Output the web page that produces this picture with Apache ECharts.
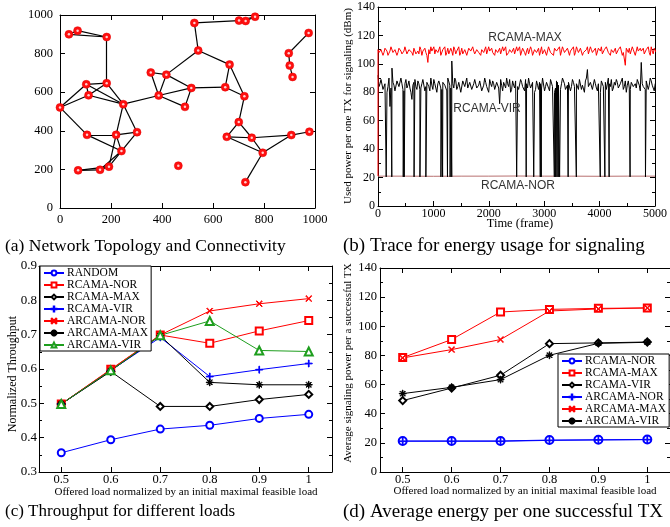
<!DOCTYPE html>
<html><head><meta charset="utf-8">
<script src="https://cdn.jsdelivr.net/npm/echarts@6/dist/echarts.min.js"></script>
<style>html,body{margin:0;padding:0;background:#fff}#c{width:670px;height:527px}</style>
</head><body><div id="c"></div>
<script>
// ---------- (a) Network topology ----------
const nodeXY = [[35,900],[69,919],[183,886],[527,959],[702,971],[728,969],[765,991],[975,907],[897,802],[901,738],
  [912,679],[542,816],[665,743],[356,702],[417,691],[103,641],[183,647],[112,584],[0,521],[248,538],
  [387,583],[515,622],[648,626],[723,579],[490,524],[701,445],[654,369],[752,364],[795,286],[907,378],
  [978,395],[727,134],[106,379],[220,379],[302,393],[241,295],[464,219],[71,195],[157,198],[192,214]];
// edges as 1-based node numbers
const edges = [[1,2],[1,3],[2,3],[3,17],[4,5],[5,6],[6,7],[5,7],[4,12],[12,15],[12,13],[8,9],[9,10],[10,11],
  [13,23],[13,24],[23,24],[22,23],[14,15],[14,21],[15,21],[15,22],[21,22],[21,25],[22,25],
  [19,16],[19,18],[19,33],[16,17],[16,18],[16,20],[17,18],[17,20],[18,20],[20,21],[20,34],[20,35],
  [33,34],[34,35],[33,36],[34,36],[35,36],[34,40],[36,40],[36,39],[38,39],[39,40],[38,40],
  [24,26],[26,27],[26,28],[27,28],[27,29],[28,29],[28,30],[29,30],[30,31],[29,32]];

// ---------- (b) Trace ----------
const FRAME_STEP = 36;
const maxTrace = [110,107,111,108,112,106,109,111,107,110,108,112,107,109,111,106,110,108,111,107,
  109,112,106,110,108,101,107,109,112,110,108,112,107,110,106,111,108,109,112,107,
  110,106,111,108,110,107,112,108,109,106,111,107,110,108,112,106,109,111,107,110,
  108,111,107,109,112,106,110,108,111,107,109,112,107,110,106,111,108,110,107,111,
  109,106,112,108,110,107,111,109,106,110,108,112,107,110,108,111,106,109,112,108,
  110,107,111,108,109,112,106,110,108,111,107,110,112,106,109,111,107,110,108,111,
  107,109,112,108,99,110,111,107,110,106,112,108,109,111,107,110,108,112,107,110];
const maxTraceHalf = [108,110,106,111,109,107,112,108,110,106,111,109,108,112,107,110,109,106,112,108,
  107,110,109,111,106,110,112,108,107,111,109,106,110,112,108,107,111,106,110,109,
  112,108,107,110,106,111,109,112,107,110,108,106,111,109,107,112,110,108,106,111,
  109,107,112,110,106,108,111,109,107,112,110,106,111,108,109,107,112,106,110,108,
  111,109,107,110,106,112,108,107,111,109,110,106,112,108,107,111,109,110,106,112,
  108,111,106,109,110,107,112,108,109,106,111,109,107,110,112,108,106,111,109,107,
  110,112,106,109,111,108,107,112,110,106,109,111,108,107,110,112,106,109,111,108];
const virTrace = [92,86,88,83,87,84,70,97,85,82,88,84,86,81,89,85,83,75,87,84,
  88,82,86,90,84,87,81,85,89,83,86,88,82,87,84,90,85,102,83,88,
  84,86,81,89,85,83,87,82,86,90,84,88,81,85,87,83,89,84,86,82,
  88,72,85,87,83,86,89,82,85,88,84,81,87,85,89,83,86,84,88,82,
  85,87,83,89,84,86,81,88,85,83,87,84,86,90,82,85,88,84,87,83,
  86,89,82,85,88,96,84,87,83,86,81,85,88,84,87,82,86,89,83,85,
  87,84,86,82,88,85,83,87,84,86,89,85,101,84,82,87,85,88,83,86];
const virTraceHalf = [84,89,82,86,80,90,83,87,81,88,84,90,82,86,83,88,80,85,89,82,
  86,83,89,81,87,84,90,82,86,80,88,83,87,85,81,89,83,86,90,82,
  87,80,88,84,90,82,86,81,89,83,85,87,82,90,84,80,86,88,82,87,
  83,89,81,86,90,84,80,88,83,87,82,89,84,81,86,90,83,87,80,88,
  82,86,90,81,87,83,89,84,80,88,85,82,90,86,83,87,81,89,84,86,
  82,88,85,80,90,84,87,82,89,83,86,80,88,85,82,90,84,81,87,89,
  83,86,90,84,80,88,82,87,85,83,90,81,86,84,88,82,90,85,81,87];
const virDropFrames = [148,249,456,473,651,757,864,1136,1166,1254,1302,1331,2503,2675,2811,2929,2947,
  3183,3207,3231,3254,3278,3432,3580,4012,4095,4172,4550,4828];
const virDropLevel = 20.5;
const norFrames = [0,500,1000,1500,2000,2500,3000,3500,4000,4500,5000];
const norTrace = [21,21,20.9,21,21,21.1,21,21,20.9,21,21];
const maxStartLevel = 21;

// ---------- (c) Throughput ----------
const loads = [0.5,0.6,0.7,0.8,0.9,1.0];
const thrRandom   = [0.356,0.394,0.425,0.436,0.456,0.468];
const thrRcamaNor = [0.498,0.599,0.699,0.675,0.711,0.741];
const thrRcamaMax = [0.498,0.593,0.491,0.491,0.511,0.526];
const thrRcamaVir = [0.498,0.596,0.692,0.578,0.598,0.616];
const thrArcamaNor= [0.498,0.598,0.699,0.769,0.790,0.805];
const thrArcamaMax= [0.498,0.595,0.697,0.561,0.554,0.554];
const thrArcamaVir= [0.498,0.596,0.698,0.740,0.654,0.651];

// ---------- (d) Energy ----------
const enRcamaNor  = [21.3,21.3,21.3,21.9,22.1,22.3];
const enRcamaMax  = [78.5,90.9,109.8,111.6,112.3,112.6];
const enRcamaVir  = [49.0,57.6,66.4,88.1,88.6,89.2];
const enArcamaNor = [21.1,21.1,21.1,21.7,22.0,22.2];
const enArcamaMax = [78.3,84.0,90.9,110.5,111.9,112.6];
const enArcamaVir = [53.8,58.1,63.4,80.1,88.3,89.0];

const loadTicks = [0.5,0.6,0.7,0.8,0.9,1];

// ---------- helpers ----------
const serif = 'Liberation Serif';
const sans = 'Liberation Sans';
const SYM_PLUS = 'path://M4.5,0H5.5V4.5H10V5.5H5.5V10H4.5V5.5H0V4.5H4.5Z';
const SYM_X = 'path://M1.3,0.6L5,4.3L8.7,0.6L9.4,1.3L5.7,5L9.4,8.7L8.7,9.4L5,5.7L1.3,9.4L0.6,8.7L4.3,5L0.6,1.3Z';
const SYM_STAR = 'path://M4.6,0H5.4V4.6H10V5.4H5.4V10H4.6V5.4H0V4.6H4.6Z M1.8,1.2L5,4.4L8.2,1.2L8.8,1.8L5.6,5L8.8,8.2L8.2,8.8L5,5.6L1.8,8.8L1.2,8.2L4.4,5L1.2,1.8Z';

function axes(dim, g, min, max, o) {
  const pos = dim === 'x' ? ['bottom','top'] : ['left','right'];
  return pos.map((p, k) => {
    const a = {
      gridIndex: g, type: 'value', position: p, min: min, max: max,
      splitLine: {show: false},
      axisLine: {show: true, onZero: false, lineStyle: {color: '#000', width: 1}},
      axisTick: {show: true, inside: true, length: o.tickLen || 5, lineStyle: {color: '#000', width: 1}},
      minorTick: {show: !!o.minor, splitNumber: o.minor || 5, length: 3, lineStyle: {color: '#000', width: 1}},
      axisLabel: {show: k === 0, fontFamily: serif, fontSize: o.fs || 12, color: '#000', margin: o.margin || 4,
                  formatter: o.fmt || (v => String(v)), showMinLabel: true, showMaxLabel: true},
      axisPointer: {show: false}
    };
    if (o.interval !== undefined) a.interval = o.interval;
    if (o.ticks) { a.axisTick.customValues = o.ticks; a.axisLabel.customValues = o.ticks; }
    return a;
  });
}

const xAxis = [].concat(
  axes('x', 0, 0, 1000, {interval: 200, fs: 12.5, margin: 5}),
  axes('x', 1, 0, 5000, {interval: 1000, fs: 12, margin: 2, minor: 2}),
  axes('x', 2, 0.455, 1.047, {ticks: loadTicks, fs: 12.5, margin: 1}),
  axes('x', 3, 0.4536, 1.0464, {ticks: loadTicks, fs: 12.5, margin: 1})
);
const yAxis = [].concat(
  axes('y', 0, 0, 1000, {interval: 200, fs: 12.5, margin: 7}),
  axes('y', 1, 0, 140, {interval: 20, fs: 12, margin: 3, minor: 2}),
  axes('y', 2, 0.3, 0.9, {interval: 0.1, fs: 13, margin: 2, minor: 2, fmt: v => v.toFixed(1)}),
  axes('y', 3, 0, 140, {interval: 20, fs: 12.5, margin: 3, minor: 2})
);

const grid = [
  {left: 60, top: 15, width: 255, height: 193},
  {left: 378, top: 7, width: 282, height: 199},
  {left: 39, top: 266, width: 293, height: 206},
  {left: 380, top: 268, width: 290, height: 204}
];

const series = [];
// (a)
series.push({type: 'lines', coordinateSystem: 'cartesian2d', xAxisIndex: 0, yAxisIndex: 0, silent: true,
  data: edges.map(([a, b]) => ({coords: [nodeXY[a - 1], nodeXY[b - 1]]})),
  lineStyle: {color: '#000', width: 1.2, opacity: 1}, z: 2});
series.push({type: 'scatter', xAxisIndex: 0, yAxisIndex: 0, data: nodeXY, symbol: 'circle', symbolSize: 8,
  itemStyle: {color: '#ff1010', borderColor: '#e00000', borderWidth: 0.5, opacity: 1}, z: 3, silent: true});
series.push({type: 'scatter', xAxisIndex: 0, yAxisIndex: 0, data: nodeXY, symbol: 'circle', symbolSize: 2.5,
  itemStyle: {color: '#ffd0d0', opacity: 1}, z: 4, silent: true});

// (b)
const halfOffset = FRAME_STEP / 2;
const maxPts = [[0, maxStartLevel]].concat(maxTrace.map((v, i) => [i * FRAME_STEP, v]))
  .concat(maxTraceHalf.map((v, i) => [i * FRAME_STEP + halfOffset, v]))
  .sort((a, b) => a[0] - b[0]);
const virPts = virTrace.map((v, i) => [i * FRAME_STEP, v])
  .concat(virTraceHalf.map((v, i) => [i * FRAME_STEP + halfOffset, v]))
  .concat(virDropFrames.map(f => [f, virDropLevel]))
  .sort((a, b) => a[0] - b[0]);
const norPts = norFrames.map((f, i) => [f, norTrace[i]]);
const traceCommon = {type: 'line', xAxisIndex: 2, yAxisIndex: 2, showSymbol: false, symbol: 'none',
  silent: true, clip: true};
series.push(Object.assign({}, traceCommon, {name: 'trace-nor', data: norPts, lineStyle: {color: '#b87070', width: 1}, z: 2}));
series.push(Object.assign({}, traceCommon, {name: 'trace-vir', data: virPts, lineStyle: {color: '#000', width: 1}, z: 3}));
series.push(Object.assign({}, traceCommon, {name: 'trace-max', data: maxPts, lineStyle: {color: '#ff0000', width: 1}, z: 4}));

// (c) & (d)
function mk(name, vals, color, symbol, xi, size) {
  return {type: 'line', name: name, xAxisIndex: xi, yAxisIndex: xi,
    data: loads.map((x, i) => [x, vals[i]]), symbol: symbol, symbolSize: size || 7, showSymbol: true,
    lineStyle: {color: color, width: 1}, itemStyle: {color: color, borderColor: color, borderWidth: 1},
    emphasis: {disabled: true}, silent: true};
}
const green = '#1e9e1e';
const cSeries = [
  mk('RANDOM', thrRandom, '#0000ff', 'emptyCircle', 4),
  mk('RCAMA-NOR', thrRcamaNor, '#ff0000', 'emptyRect', 4),
  mk('RCAMA-MAX', thrRcamaMax, '#000000', 'emptyDiamond', 4),
  mk('RCAMA-VIR', thrRcamaVir, '#0000ff', SYM_PLUS, 4),
  mk('ARCAMA-NOR', thrArcamaNor, '#ff0000', SYM_X, 4, 6),
  mk('ARCAMA-MAX', thrArcamaMax, '#000000', SYM_STAR, 4),
  mk('ARCAMA-VIR', thrArcamaVir, green, 'emptyTriangle', 4, 8)
];
const dSeries = [
  mk('RCAMA-NOR (d)', enRcamaNor, '#0000ff', 'emptyCircle', 6, 8),
  mk('RCAMA-MAX (d)', enRcamaMax, '#ff0000', 'emptyRect', 6),
  mk('RCAMA-VIR (d)', enRcamaVir, '#000000', 'emptyDiamond', 6),
  mk('ARCAMA-NOR (d)', enArcamaNor, '#0000ff', SYM_PLUS, 6),
  mk('ARCAMA-MAX (d)', enArcamaMax, '#ff0000', SYM_X, 6, 6),
  mk('ARCAMA-VIR (d)', enArcamaVir, '#000000', SYM_STAR, 6)
];
series.push(...cSeries, ...dSeries);

const legendBase = {orient: 'vertical', backgroundColor: '#fff', borderColor: '#000', borderWidth: 1, borderRadius: 0,
  itemGap: 0, itemWidth: 20, itemHeight: 6, selectedMode: false, inactiveColor: '#000',
  textStyle: {fontFamily: serif, fontSize: 11.5, color: '#000', lineHeight: 10.6, padding: [0, 0, 0, -2]}, z: 10};
const legend = [
  Object.assign({}, legendBase, {left: 40, top: 266, padding: [1, 3, 0, 3], data: cSeries.map(s => s.name)}),
  Object.assign({}, legendBase, {left: 558, top: 354, padding: [1, 3, 0, 3], data: dSeries.map(s => s.name),
    formatter: n => n.replace(' (d)', '')})
];

function T(text, x, y, size, o) {
  o = o || {};
  return {type: 'text', x: x, y: y, rotation: o.rot || 0, silent: true, z: 100,
    style: {text: text, fontFamily: o.font || serif, fontSize: size, fill: o.color || '#000',
      textAlign: o.align || 'center', textVerticalAlign: 'middle'}};
}
const graphic = [
  T('RCAMA-MAX', 525, 38, 12, {font: sans, color: '#333'}),
  T('RCAMA-VIR', 487, 109, 12, {font: sans, color: '#333'}),
  T('RCAMA-NOR', 518, 186, 12, {font: sans, color: '#333'}),
  T('Used power per one TX for signaling (dBm)', 348.5, 106, 11, {rot: Math.PI / 2}),
  T('Time (frame)', 520, 224, 12.5),
  T('Normalized Throughput', 12.5, 374, 12, {rot: Math.PI / 2}),
  T('Offered load normalized by an initial maximal feasible load', 186, 492, 11),
  T('Average signaling power per a successful TX', 348.5, 363, 11, {rot: Math.PI / 2}),
  T('Offered load normalized by an initial maximal feasible load', 525, 491, 11),
  T('(a) Network Topology and Connectivity', 5, 246, 17.5, {align: 'left'}),
  T('(b) Trace for energy usage for signaling', 343, 246, 19, {align: 'left'}),
  T('(c) Throughput for different loads', 5, 512, 17, {align: 'left'}),
  T('(d) Average energy per one successful TX', 343, 512, 19, {align: 'left'})
];

const chart = echarts.init(document.getElementById('c'), null, {renderer: 'canvas'});
chart.setOption({animation: false, backgroundColor: '#fff', grid, xAxis, yAxis, series, legend, graphic,
  tooltip: {show: false}});
</script></body></html>
